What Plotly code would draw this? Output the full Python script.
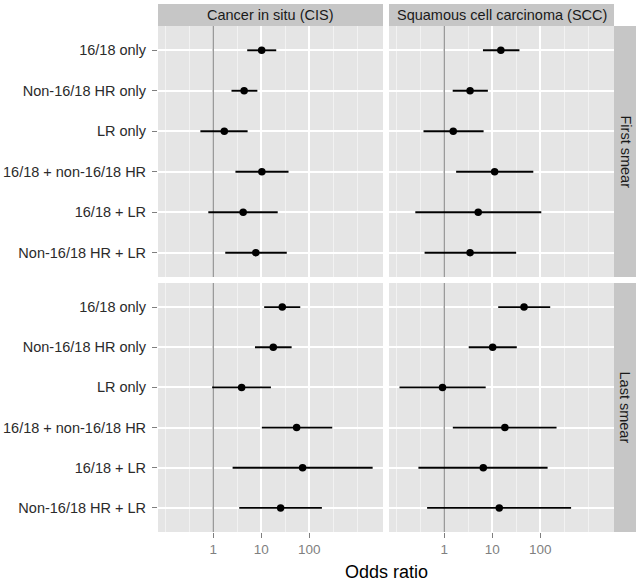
import plotly.graph_objects as go

groups = ["16/18 only", "Non-16/18 HR only", "LR only",
          "16/18 + non-16/18 HR", "16/18 + LR", "Non-16/18 HR + LR"]
outcomes = ["Cancer in situ (CIS)", "Squamous cell carcinoma (SCC)"]
smears = ["First smear", "Last smear"]

cis_first_or = [10.2, 4.4, 1.7, 10.3, 4.2, 7.7]
cis_first_lo = [5.1, 2.4, 0.54, 2.9, 0.79, 1.78]
cis_first_hi = [20.5, 8.3, 5.2, 37, 22, 34]
scc_first_or = [15.1, 3.45, 1.54, 11.2, 5.1, 3.45]
scc_first_lo = [6.4, 1.5, 0.37, 1.77, 0.25, 0.39]
scc_first_hi = [36.8, 8.1, 6.6, 71.6, 105, 31.4]
cis_last_or = [27.4, 17.8, 3.9, 54.5, 72.6, 25.3]
cis_last_lo = [11.5, 7.4, 0.95, 10.3, 2.53, 3.48]
cis_last_hi = [64.9, 42.9, 15.9, 301, 2086, 183]
scc_last_or = [45.9, 10.2, 0.92, 18.3, 6.5, 14.0]
scc_last_lo = [13.3, 3.24, 0.117, 1.51, 0.29, 0.44]
scc_last_hi = [161, 32.4, 7.3, 218, 142, 438]

x_ticks = [1, 10, 100]
x_tick_text = ["1", "10", "100"]
x_minor = [0.1, 0.316, 3.16, 31.6, 316, 1000]

panels = [
    (cis_first_or, cis_first_lo, cis_first_hi),
    (scc_first_or, scc_first_lo, scc_first_hi),
    (cis_last_or, cis_last_lo, cis_last_hi),
    (scc_last_or, scc_last_lo, scc_last_hi),
]

FONT = "Liberation Sans, Arial, sans-serif"
W, H = 640, 583
ML, MR, MT, MB = 158, 4, 4, 51
PW, PH = W - ML - MR, H - MT - MB


def px(xp):
    return (xp - ML) / PW


def py(yp):
    return (H - MB - yp) / PH


xdom = [[px(158), px(383)], [px(389), px(614)]]
ydom = [[py(277), py(26)], [py(532), py(283)]]

fig = go.Figure()
layout = {}
for i, (orv, lo, hi) in enumerate(panels):
    r, c = divmod(i, 2)
    k = i + 1
    xa = "x" if k == 1 else f"x{k}"
    ya = "y" if k == 1 else f"y{k}"
    lx, ly = [], []
    for g, a, b in zip(groups, lo, hi):
        lx += [a, b, None]
        ly += [g, g, None]
    fig.add_trace(go.Scatter(x=lx, y=ly, mode="lines", xaxis=xa, yaxis=ya,
                             line=dict(color="black", width=1.9),
                             showlegend=False, hoverinfo="skip"))
    fig.add_trace(go.Scatter(x=orv, y=groups, mode="markers", xaxis=xa, yaxis=ya,
                             marker=dict(color="black", size=7.5),
                             showlegend=False))
    bottom = r == 1
    layout["xaxis" if k == 1 else f"xaxis{k}"] = dict(
        type="log", range=[-1.15, 3.535], domain=xdom[c], anchor=ya,
        tickmode="array", tickvals=x_ticks, ticktext=x_tick_text,
        showticklabels=bottom, ticks="outside" if bottom else "",
        ticklen=5, tickcolor="#7f7f7f", tickwidth=1,
        tickfont=dict(family=FONT, size=13.5, color="#7f7f7f"),
        showgrid=True, gridcolor="white", gridwidth=1.5,
        minor=dict(tickmode="array", tickvals=x_minor, showgrid=True,
                   gridcolor="#f2f2f2", gridwidth=1, ticks=""),
        zeroline=False, showline=False, fixedrange=True,
    )
    layout["yaxis" if k == 1 else f"yaxis{k}"] = dict(
        type="category", categoryorder="array", categoryarray=groups,
        range=[len(groups) - 0.4, -0.6], domain=ydom[r], anchor=xa,
        showticklabels=(c == 0), ticks="outside" if c == 0 else "",
        ticklen=5, tickcolor="#7f7f7f", tickwidth=1, ticklabelstandoff=3,
        tickfont=dict(family=FONT, size=14.5, color="#2b2b2b"),
        showgrid=True, gridcolor="white", gridwidth=1.5,
        zeroline=False, showline=False, fixedrange=True,
    )

shapes = []
annotations = []
# reference line at OR = 1
for k in range(1, 5):
    xr = "x" if k == 1 else f"x{k}"
    yr = "y" if k == 1 else f"y{k}"
    shapes.append(dict(type="line", xref=xr, yref=yr, x0=1, x1=1,
                       y0=-0.6, y1=len(groups) - 0.4,
                       line=dict(color="#858585", width=1.2), layer="between"))

STRIP = "#c6c6c6"
# top strips
for c, name in enumerate(outcomes):
    shapes.append(dict(type="rect", xref="paper", yref="paper",
                       x0=xdom[c][0], x1=xdom[c][1], y0=py(26), y1=py(4),
                       fillcolor=STRIP, line=dict(width=0), layer="below"))
    annotations.append(dict(text=name, xref="paper", yref="paper",
                            x=(xdom[c][0] + xdom[c][1]) / 2, y=(py(26) + py(4)) / 2,
                            xanchor="center", yanchor="middle", showarrow=False,
                            font=dict(family=FONT, size=14.5, color="#1a1a1a")))
# right strips
for r, name in enumerate(smears):
    shapes.append(dict(type="rect", xref="paper", yref="paper",
                       x0=px(614), x1=px(636), y0=ydom[r][0], y1=ydom[r][1],
                       fillcolor=STRIP, line=dict(width=0), layer="below"))
    annotations.append(dict(text=name, xref="paper", yref="paper",
                            x=(px(614) + px(636)) / 2, y=(ydom[r][0] + ydom[r][1]) / 2,
                            xanchor="center", yanchor="middle", showarrow=False,
                            textangle=90,
                            font=dict(family=FONT, size=14.5, color="#1a1a1a")))

annotations.append(dict(text="Odds ratio", xref="paper", yref="paper",
                        x=px(386), y=py(572), xanchor="center", yanchor="middle",
                        showarrow=False, font=dict(family=FONT, size=18, color="black")))

fig.update_layout(
    width=W, height=H,
    margin=dict(l=ML, r=MR, t=MT, b=MB, pad=0),
    paper_bgcolor="white", plot_bgcolor="#e5e5e5",
    shapes=shapes, annotations=annotations,
    font=dict(family=FONT),
    showlegend=False,
    **layout,
)

fig.write_html("out.html", config={"displayModeBar": False},
               post_script="document.body.style.margin='0';")
